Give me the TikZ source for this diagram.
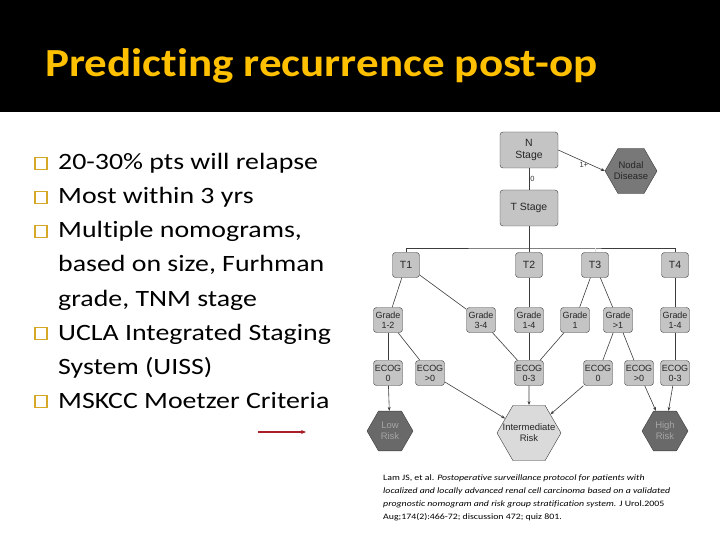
\documentclass[tikz,border=0pt]{standalone}
\usepackage{fontspec}
\setmainfont{Carlito}[FakeStretch=1.19, Ligatures=NoCommon]
\newfontfamily\titlefont{Carlito}[FakeStretch=1.13, Ligatures=NoCommon]
\newfontfamily\chartfont{Liberation Sans}
\usepackage{tikz}
\usetikzlibrary{shapes.geometric, arrows.meta, positioning}
\definecolor{titlegold}{RGB}{255,192,0}
\definecolor{bulletgold}{RGB}{214,168,40}
\definecolor{boxgray}{RGB}{196,196,196}
\definecolor{hexdark}{RGB}{105,105,105}
\definecolor{hexmid}{RGB}{120,120,120}
\definecolor{hexlight}{RGB}{218,218,218}
\definecolor{hextext}{RGB}{165,165,165}
\definecolor{linegray}{RGB}{60,60,60}
\definecolor{refred}{RGB}{170,30,40}

\begin{document}
\begin{tikzpicture}[
    x=1bp, y=-1bp,
    box/.style={draw=linegray, fill=boxgray, rounded corners=3bp, align=center, inner sep=1bp, text=black!85, font=\chartfont\fontsize{9}{10}\selectfont},
    stagebox/.style={box, minimum width=58bp, minimum height=36bp, font=\chartfont\fontsize{10.5}{11.5}\selectfont},
    tbox/.style={box, minimum width=27bp, minimum height=25bp, font=\chartfont\fontsize{10.5}{11.5}\selectfont},
    smallbox/.style={box, minimum width=29bp, minimum height=25bp},
    hex/.style={regular polygon, regular polygon sides=6, draw=linegray, align=center, inner sep=-12bp, font=\chartfont\fontsize{9.5}{11}\selectfont},
    darkhex/.style={hex, fill=hexdark, text=hextext},
    nodalhex/.style={hex, fill=hexmid, text=black!85},
    lighthex/.style={hex, fill=hexlight, text=black!85},
    link/.style={draw=linegray, line width=0.6bp},
    arrow/.style={link, -{Stealth[length=4bp, width=3bp]}},
    edgelbl/.style={font=\chartfont\fontsize{7.5}{8}\selectfont, text=black!80, inner sep=1bp},
    bullet/.style={draw=bulletgold, line width=1.1bp, minimum size=12bp, inner sep=0pt},
    item/.style={anchor=base west, inner sep=0pt, font=\fontsize{23.5}{28}\selectfont}
]
\useasboundingbox (0,0) rectangle (720,540);

% Title band
\fill[black] (0,0) rectangle (720,112);
\node[anchor=base west, inner sep=0pt, text=titlegold, font=\titlefont\bfseries\fontsize{40}{48}\selectfont] (title) at (45,77) {Predicting recurrence post-op};

% Bullet list
\foreach \y in {170,204,238,340,408}
  \node[bullet] at (41,\y-6.5) {};
\node[item] (relapse) at (58,170) {20-30\% pts will relapse};
\node[item] (within) at (58,204) {Most within 3 yrs};
\node[item] (nomo) at (58,238) {Multiple nomograms,};
\node[item] (nomob) at (58,272) {based on size, Furhman};
\node[item] (nomoc) at (58,306) {grade, TNM stage};
\node[item] (uiss) at (58,340) {UCLA Integrated Staging};
\node[item] (uissb) at (58,374) {System (UISS)};
\node[item] (mskcc) at (58,408) {MSKCC Moetzer Criteria};

% Red pointer
\coordinate (redstart) at (258,432);
\coordinate (redend) at (306,432);
\draw[refred, line width=1.3bp, -{Stealth[length=5bp, width=4bp]}] (redstart) -- (redend);

% Stages
\node[stagebox] (nstage) at (529,150) {N\\Stage};
\node[nodalhex, minimum size=52bp] (nodal) at (631,171) {Nodal\\Disease};
\node[stagebox] (tstage) at (529,208) {T Stage};
\coordinate (bar) at (529,248);

\node[tbox] (t1) at (406,265) {T1};
\node[tbox] (t2) at (529,265) {T2};
\node[tbox] (t3) at (595,265) {T3};
\node[tbox] (t4) at (675,265) {T4};

% Grades
\node[smallbox] (g12) at (388,320) {Grade\\1-2};
\node[smallbox] (g34) at (481,320) {Grade\\3-4};
\node[smallbox] (g14a) at (529,320) {Grade\\1-4};
\node[smallbox] (g1) at (575,320) {Grade\\1};
\node[smallbox] (gover1) at (618,320) {Grade\\>1};
\node[smallbox] (g14b) at (675,320) {Grade\\1-4};

% ECOG
\node[smallbox] (e0a) at (388,373) {ECOG\\0};
\node[smallbox] (eover0a) at (430,373) {ECOG\\>0};
\node[smallbox] (e03a) at (529,373) {ECOG\\0-3};
\node[smallbox] (e0b) at (598,373) {ECOG\\0};
\node[smallbox] (eover0b) at (639,373) {ECOG\\>0};
\node[smallbox] (e03b) at (675,373) {ECOG\\0-3};

% Risk groups
\node[darkhex, minimum size=46bp] (low) at (390,431) {Low\\Risk};
\node[lighthex, minimum size=64bp] (inter) at (529,433) {Intermediate\\Risk};
\node[darkhex, minimum size=46bp] (high) at (665,431) {High\\Risk};

% Connectors
\draw[arrow] (nstage.east) -- (nodal.west) node[pos=0.55, below, edgelbl] {1+};
\draw[link] (nstage) -- (tstage) node[midway, right, edgelbl] {0};
\draw[link] (tstage) -- (bar);
\draw[link] (t1.north) |- (bar) -| (t4.north);
\draw[link] (bar) -- (t2);
\draw[link, draw=gray!25] (t3.north) -- (t3.north |- bar);

\draw[link] (t1) -- (g12);
\draw[link] (t1) -- (g34);
\draw[link] (t2) -- (g14a);
\draw[link] (t3) -- (g1);
\draw[link] (t3) -- (gover1);
\draw[link] (t4) -- (g14b);

\draw[link] (g12) -- (e0a);
\draw[link] (g12) -- (eover0a);
\draw[link] (g34) -- (e03a);
\draw[link] (g14a) -- (e03a);
\draw[link] (g1) -- (e03a);
\draw[link] (gover1) -- (e0b);
\draw[link] (gover1) -- (eover0b);
\draw[link] (g14b) -- (e03b);

\draw[arrow] (e0a) -- (low);
\draw[arrow] (eover0a) -- (inter);
\draw[arrow] (e03a) -- (inter);
\draw[arrow] (e0b) -- (inter);
\draw[arrow] (eover0b) -- (high);
\draw[arrow] (e03b) -- (high);

% Reference
\node[anchor=north west, align=left, inner sep=0pt, font=\fontsize{8.3}{13}\selectfont] (cite) at (383,475)
  {Lam JS, et al. \textit{Postoperative surveillance protocol for patients with}\\
   \textit{localized and locally advanced renal cell carcinoma based on a validated}\\
   \textit{prognostic nomogram and risk group stratification system.} J Urol.2005\\
   Aug;174(2):466-72; discussion 472; quiz 801.};
\end{tikzpicture}
\end{document}
